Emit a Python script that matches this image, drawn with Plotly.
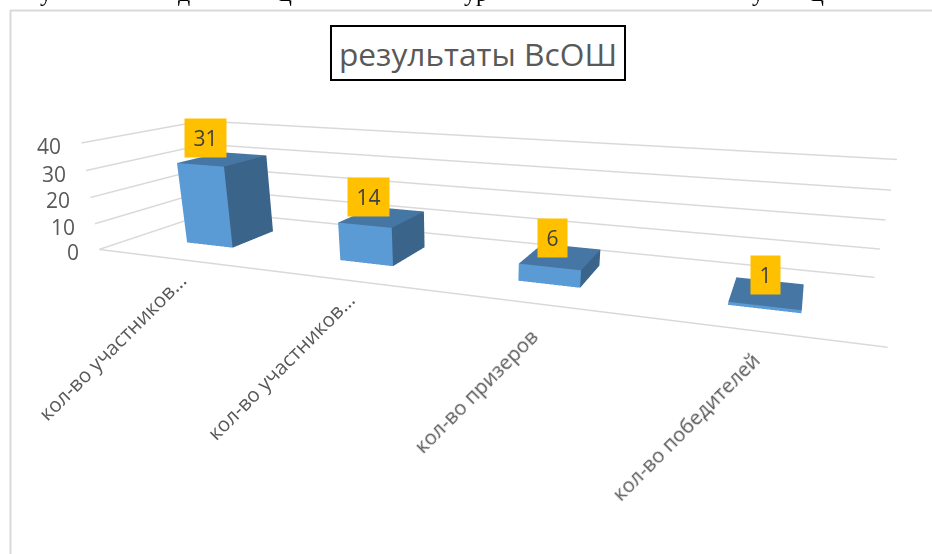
import plotly.graph_objects as go

categories = ["кол-во участников...", "кол-во участников...", "кол-во призеров", "кол-во победителей"]
values = [31, 14, 6, 1]
z_ticks = [0, 10, 20, 30, 40]
top_fragments = [("у", 46), ("д", 184), ("ц", 285), ("ур", 476), ("у", 758), ("ц", 817)]

# The figure is taller than the window so the 3D view gets a long lens; the excess is cropped.
W, H = 932, 700
ay, az = 0.5039952, 0.2916146
eye = dict(x=0.7905990, y=-2.0086431, z=0.4803761)
center = dict(x=0.1122692, y=-0.2839150, z=-0.2714096)

GRID = "#d9d9d9"
FRONT, SIDE, TOP = "#5B9BD5", "#3A6489", "#4676A3"
FONT = "Open Sans"
TXT = "#595959"
BAR_WIDTH = 0.3125
BAR_CENTER = 0.515

fig = go.Figure()
for z in z_ticks:
    fig.add_trace(go.Scatter3d(x=[0, 0, 4], y=[0, 1, 1], z=[z, z, z], mode="lines",
                               line=dict(color=GRID, width=3), hoverinfo="skip"))
fig.add_trace(go.Scatter3d(x=[0, 4], y=[0, 0], z=[0, 0], mode="lines",
                           line=dict(color=GRID, width=3), hoverinfo="skip"))

vx, vy, vz, ii, jj, kk, fc = [], [], [], [], [], [], []
for n, v in enumerate(values):
    x0, x1, y0, y1 = n + BAR_CENTER - BAR_WIDTH / 2, n + BAR_CENTER + BAR_WIDTH / 2, .3, .7
    b = len(vx)
    vx += [x0, x1, x1, x0, x0, x1, x1, x0]
    vy += [y0, y0, y1, y1, y0, y0, y1, y1]
    vz += [0, 0, 0, 0, v, v, v, v]
    for quad, col in (((0, 1, 5, 4), FRONT), ((1, 2, 6, 5), SIDE), ((4, 5, 6, 7), TOP)):
        A, B, C, D = [b + t for t in quad]
        ii += [A, A]; jj += [B, C]; kk += [C, D]; fc += [col, col]
fig.add_trace(go.Mesh3d(x=vx, y=vy, z=vz, i=ii, j=jj, k=kk, facecolor=fc, flatshading=True,
                        lighting=dict(ambient=1, diffuse=0, specular=0, roughness=1, fresnel=0),
                        hoverinfo="skip"))

scene_ann = []
for t in z_ticks:
    scene_ann.append(dict(x=0, y=0, z=t, text=str(t), showarrow=False, xanchor="right", yanchor="middle",
                          xshift=-18, yshift=-3, font=dict(family=FONT, size=21, color=TXT)))
cat_shift = [(23, -5), (28, -5), (19, -17), (13, -12)]
for n, cat in enumerate(categories):
    sx, sy = cat_shift[n]
    scene_ann.append(dict(x=n + .5, y=0, z=0, text=cat, showarrow=False, textangle=-45,
                          xanchor="right", yanchor="top", xshift=sx, yshift=sy,
                          font=dict(family=FONT, size=20.2, color=TXT)))
dl_shift = [(-15, 21), (-11, 20), (-5, 18), (2, 17)]
for n, v in enumerate(values):
    sx, sy = dl_shift[n]
    scene_ann.append(dict(x=n + .5, y=.5, z=v, text=str(v), showarrow=False, xanchor="center", yanchor="middle",
                          xshift=sx, yshift=sy, bgcolor="#FFC000", width=39 if v >= 10 else 27, height=36,
                          font=dict(family=FONT, size=21, color="#404040")))

px = lambda a: a / W
py = lambda a: 1 - a / H
ann = [dict(text="результаты ВсОШ", x=px(477.5), y=py(53), xref="paper", yref="paper", showarrow=False,
            xanchor="center", yanchor="middle", width=292, height=52, bgcolor="white",
            bordercolor="black", borderwidth=2, borderpad=0,
            font=dict(family=FONT, size=31.7, color=TXT))]
for s, xp in top_fragments:
    ann.append(dict(text=s, x=px(xp), y=py(7), xref="paper", yref="paper", showarrow=False,
                    xanchor="center", yanchor="bottom", borderpad=0,
                    font=dict(family="Liberation Serif", size=24, color="black")))

fig.update_layout(
    width=W, height=H, margin=dict(l=0, r=0, t=0, b=0), showlegend=False, paper_bgcolor="white",
    shapes=[dict(type="line", xref="paper", yref="paper", x0=px(10.5), x1=px(10.5), y0=py(10), y1=0,
                 line=dict(color=GRID, width=2)),
            dict(type="line", xref="paper", yref="paper", x0=px(10), x1=1, y0=py(10.5), y1=py(10.5),
                 line=dict(color=GRID, width=2))],
    annotations=ann,
    scene=dict(domain=dict(x=[0, 1], y=[0, 1]), aspectmode="manual", aspectratio=dict(x=2, y=ay, z=az),
               bgcolor="rgba(0,0,0,0)",
               xaxis=dict(range=[0, 4], visible=False), yaxis=dict(range=[0, 1], visible=False),
               zaxis=dict(range=[0, 40], visible=False),
               camera=dict(eye=eye, center=center, up=dict(x=0, y=0, z=1)),
               annotations=scene_ann))
fig.write_html("out.html", config=dict(displayModeBar=False),
               post_script="document.body.style.margin='0';document.documentElement.style.overflow='hidden';document.body.style.overflow='hidden';")
